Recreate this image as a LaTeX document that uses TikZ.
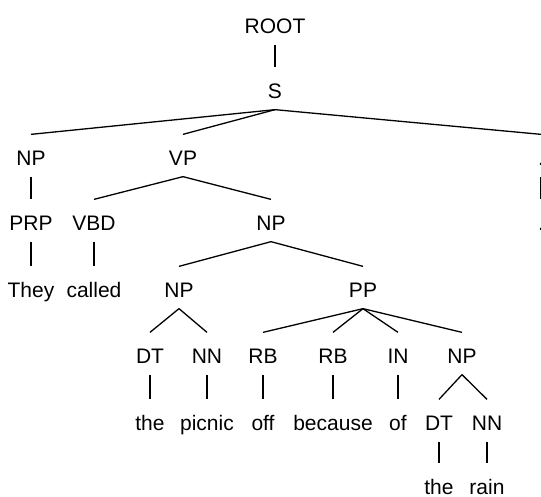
\documentclass[tikz,border=0pt]{standalone}
\usepackage{fontspec}
\setmainfont{Liberation Sans}
\begin{document}
\begin{tikzpicture}[x=1pt,y=-1pt,line width=1.3pt]
        \clip (0,0) rectangle (541,496);
        \begin{scope}[every node/.style={anchor=base,inner xsep=2pt,inner ysep=7pt,
                text height=23pt,text depth=4pt,font=\fontsize{21}{25}\selectfont}]
            \node (ROOT) at (275,33) {ROOT};
            \node (S) at (275,98) {S};
            \node (NP1) at (31,165) {NP};
            \node (VP) at (183,165) {VP};
            \node (P1) at (541,165) {.};
            \node (PRP) at (31,230) {PRP};
            \node (VBD) at (94,230) {VBD};
            \node (NP2) at (271,230) {NP};
            \node (P2) at (541,230) {.};
            \node (They) at (31,297) {They};
            \node (called) at (94,297) {called};
            \node (NP3) at (179,297) {NP};
            \node (PP) at (363,297) {PP};
            \node (DT1) at (150,363) {DT};
            \node (NN1) at (207,363) {NN};
            \node (RB1) at (263,363) {RB};
            \node (RB2) at (333,363) {RB};
            \node (IN) at (398,363) {IN};
            \node (NP4) at (462,363) {NP};
            \node (the1) at (150,430) {the};
            \node (picnic) at (207,430) {picnic};
            \node (off) at (263,430) {off};
            \node (because) at (333,430) {because};
            \node (of) at (398,430) {of};
            \node (DT2) at (439,430) {DT};
            \node (NN2) at (487,430) {NN};
            \node (the2) at (439,494) {the};
            \node (rain) at (487,494) {rain};
        \end{scope}
        \draw (ROOT.south) -- (S.north);
        \draw (S.south) -- (NP1.north);
        \draw (S.south) -- (VP.north);
        \draw (S.south) -- (P1.north);
        \draw (NP1.south) -- (PRP.north);
        \draw (P1.south) -- (P2.north);
        \draw (VP.south) -- (VBD.north);
        \draw (VP.south) -- (NP2.north);
        \draw (PRP.south) -- (They.north);
        \draw (VBD.south) -- (called.north);
        \draw (NP2.south) -- (NP3.north);
        \draw (NP2.south) -- (PP.north);
        \draw (NP3.south) -- (DT1.north);
        \draw (NP3.south) -- (NN1.north);
        \draw (PP.south) -- (RB1.north);
        \draw (PP.south) -- (RB2.north);
        \draw (PP.south) -- (IN.north);
        \draw (PP.south) -- (NP4.north);
        \draw (DT1.south) -- (the1.north);
        \draw (NN1.south) -- (picnic.north);
        \draw (RB1.south) -- (off.north);
        \draw (RB2.south) -- (because.north);
        \draw (IN.south) -- (of.north);
        \draw (NP4.south) -- (DT2.north);
        \draw (NP4.south) -- (NN2.north);
        \draw (DT2.south) -- (the2.north);
        \draw (NN2.south) -- (rain.north);
    \end{tikzpicture}
\end{document}
